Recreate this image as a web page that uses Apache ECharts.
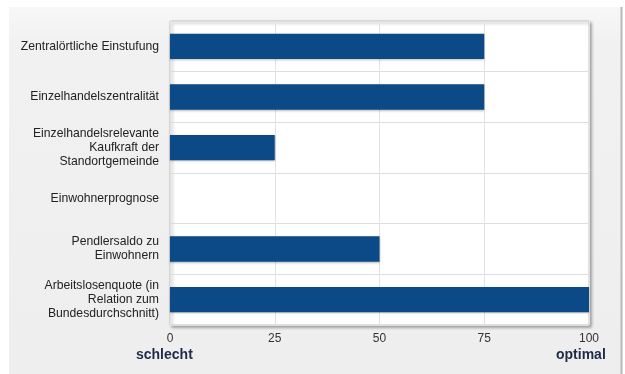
<!DOCTYPE html>
<html>
<head>
<meta charset="utf-8">
<script src="https://cdn.jsdelivr.net/npm/echarts@6/dist/echarts.min.js"></script>
<style>
  html, body { margin: 0; padding: 0; background: #ffffff; }
  #chart { width: 625px; height: 374px; }
</style>
</head>
<body>
<div id="chart"></div>
<script>
// Indicator names (top to bottom) and their scores on a 0–100 scale
const categories = [
  'Zentralörtliche Einstufung',
  'Einzelhandelszentralität',
  'Einzelhandelsrelevante\nKaufkraft der\nStandortgemeinde',
  'Einwohnerprognose',
  'Pendlersaldo zu\nEinwohnern',
  'Arbeitslosenquote (in\nRelation zum\nBundesdurchschnitt)'
];
const scores = [75, 75, 25, 0, 50, 100];
const tickValues = [0, 25, 50, 75, 100];
const scaleEnds = ['schlecht', 'optimal'];

const chart = echarts.init(document.getElementById('chart'), null, { renderer: 'canvas' });

chart.setOption({
  animation: false,
  backgroundColor: '#ffffff',
  graphic: [
    {
      type: 'rect',
      z: -10,
      shape: { x: 9, y: 7, width: 612, height: 370 },
      style: {
        fill: new echarts.graphic.LinearGradient(0, 0, 0, 1, [
          { offset: 0, color: '#f7f7f7' },
          { offset: 0.1, color: '#f1f1f1' },
          { offset: 1, color: '#eeeeee' }
        ]),
        stroke: null
      }
    },
    {
      type: 'line',
      z: -9,
      shape: { x1: 621.5, y1: 7, x2: 621.5, y2: 374 },
      style: { stroke: '#b8b8b8', lineWidth: 2 }
    },
    {
      type: 'text',
      left: 136, top: 348,
      style: { text: scaleEnds[0], font: 'bold 14px "Liberation Sans", Arial, sans-serif', fill: '#1f2b45' }
    },
    {
      type: 'text',
      left: 556, top: 348,
      style: { text: scaleEnds[1], font: 'bold 14px "Liberation Sans", Arial, sans-serif', fill: '#1f2b45' }
    }
  ],
  grid: {
    left: 170, right: 36, top: 21, bottom: 49,
    show: true,
    backgroundColor: '#ffffff',
    borderColor: '#c8c8c8',
    borderWidth: 1,
    shadowColor: 'rgba(0,0,0,0.35)',
    shadowBlur: 3,
    shadowOffsetX: 2,
    shadowOffsetY: 2
  },
  xAxis: {
    type: 'value',
    min: 0, max: 100, interval: 25,
    axisLine: { show: false },
    axisTick: { show: false },
    splitLine: { show: true, lineStyle: { color: '#e2e2e2', width: 1 } },
    axisLabel: {
      margin: 8,
      color: '#333333',
      fontFamily: '"Liberation Sans", Arial, sans-serif',
      fontSize: 12,
      formatter: v => tickValues.includes(v) ? String(v) : ''
    }
  },
  yAxis: {
    type: 'category',
    inverse: true,
    data: categories,
    axisLine: { show: false },
    axisTick: { show: false },
    splitLine: { show: true, lineStyle: { color: '#dcdce4', width: 1 } },
    axisLabel: {
      margin: 11,
      color: '#222222',
      fontFamily: '"Liberation Sans", Arial, sans-serif',
      fontSize: 12.2,
      lineHeight: 14,
      align: 'right'
    }
  },
  series: [{
    type: 'bar',
    data: scores,
    barWidth: '50%',
    itemStyle: {
      color: '#0b4a86',
      shadowColor: 'rgba(0,0,0,0.25)',
      shadowBlur: 2,
      shadowOffsetY: 1
    }
  }]
});
</script>
</body>
</html>
